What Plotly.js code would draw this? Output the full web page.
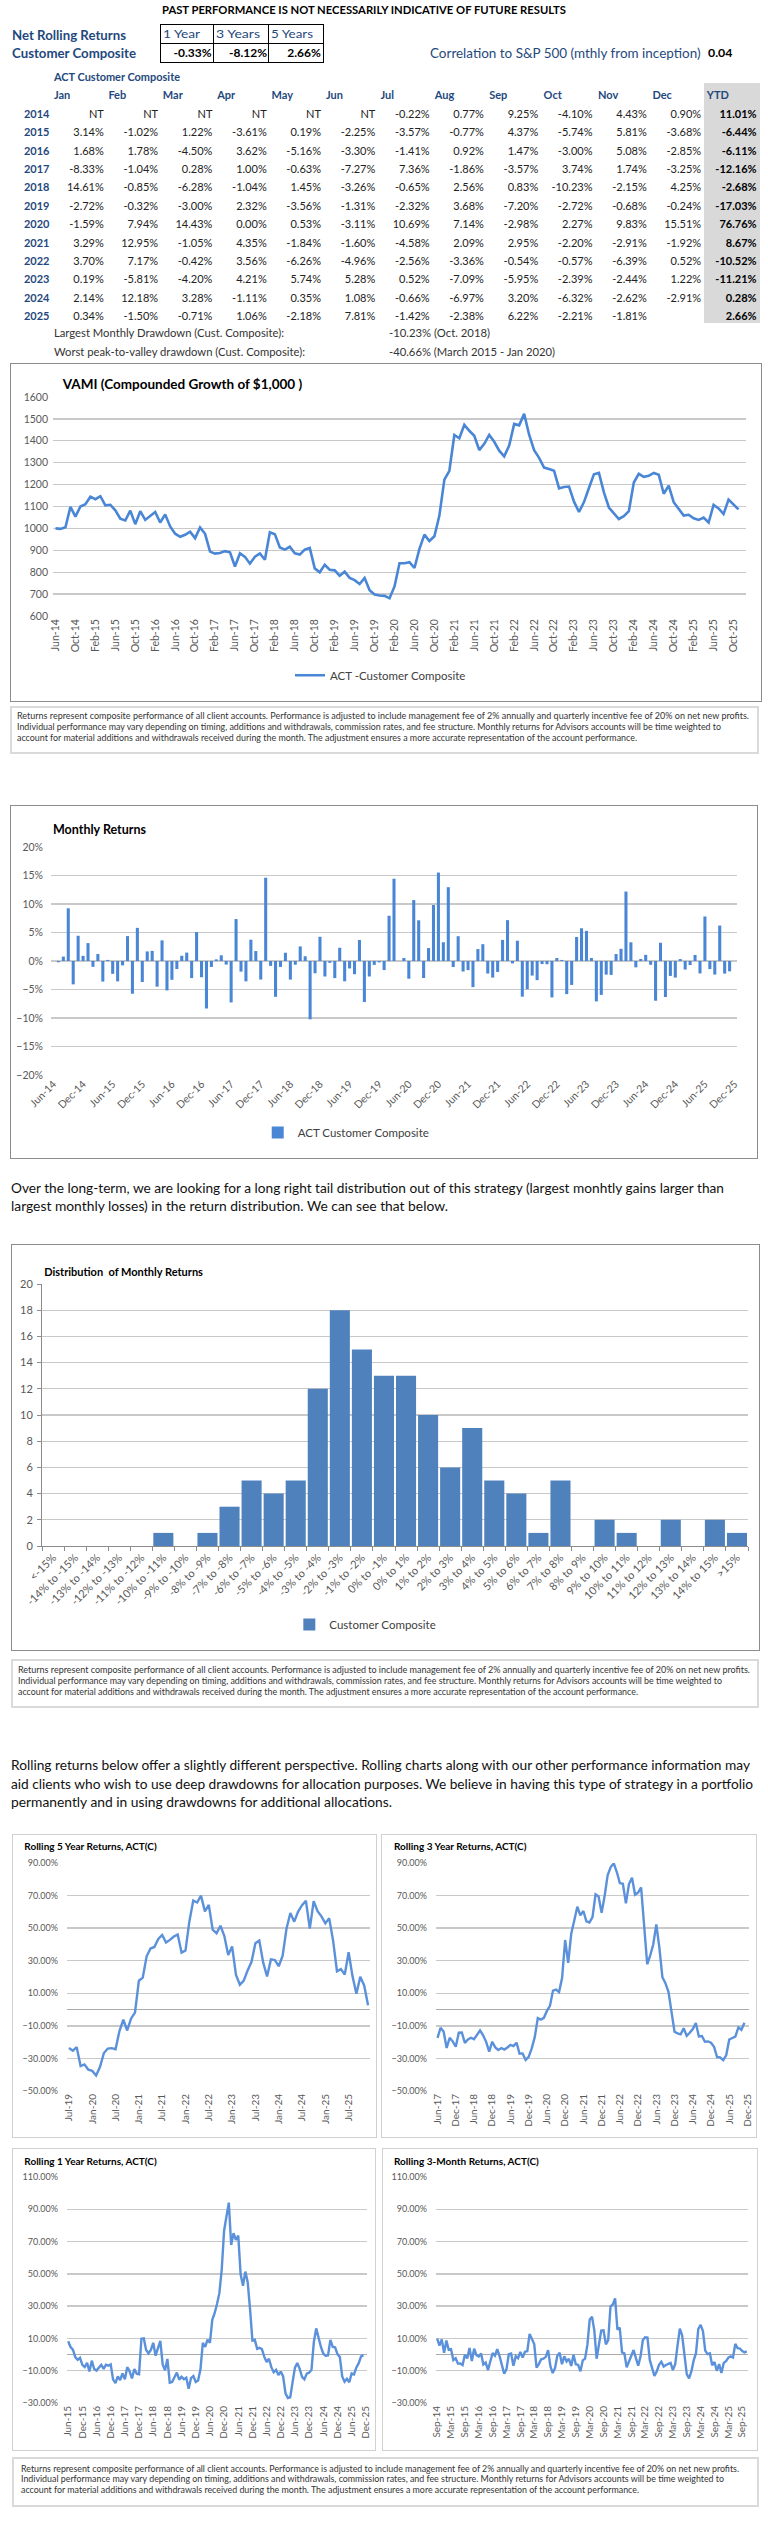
<!DOCTYPE html>
<html><head><meta charset="utf-8">
<script src="https://cdn.plot.ly/plotly-3.0.1.min.js"></script>
<style>
html,body{margin:0;padding:0;background:#fff;}
#page{position:relative;width:768px;height:2523px;overflow:hidden;font-family:Lato,'Open Sans',sans-serif;}
.t{position:absolute;white-space:nowrap;line-height:1.2;}
.box{position:absolute;box-sizing:border-box;pointer-events:none;}
.chart{position:absolute;}
</style></head><body><div id="page"></div>
<script>
// ---------------- DATA ----------------
const years = ['2014','2015','2016','2017','2018','2019','2020','2021','2022','2023','2024','2025'];
const monthNames = ['Jan','Feb','Mar','Apr','May','Jun','Jul','Aug','Sep','Oct','Nov','Dec'];
const r2014 = [null,null,null,null,null,null,-0.22,0.77,9.25,-4.10,4.43,0.90];
const r2015 = [3.14,-1.02,1.22,-3.61,0.19,-2.25,-3.57,-0.77,4.37,-5.74,5.81,-3.68];
const r2016 = [1.68,1.78,-4.50,3.62,-5.16,-3.30,-1.41,0.92,1.47,-3.00,5.08,-2.85];
const r2017 = [-8.33,-1.04,0.28,1.00,-0.63,-7.27,7.36,-1.86,-3.57,3.74,1.74,-3.25];
const r2018 = [14.61,-0.85,-6.28,-1.04,1.45,-3.26,-0.65,2.56,0.83,-10.23,-2.15,4.25];
const r2019 = [-2.72,-0.32,-3.00,2.32,-3.56,-1.31,-2.32,3.68,-7.20,-2.72,-0.68,-0.24];
const r2020 = [-1.59,7.94,14.43,0.00,0.53,-3.11,10.69,7.14,-2.98,2.27,9.83,15.51];
const r2021 = [3.29,12.95,-1.05,4.35,-1.84,-1.60,-4.58,2.09,2.95,-2.20,-2.91,-1.92];
const r2022 = [3.70,7.17,-0.42,3.56,-6.26,-4.96,-2.56,-3.36,-0.54,-0.57,-6.39,0.52];
const r2023 = [0.19,-5.81,-4.20,4.21,5.74,5.28,0.52,-7.09,-5.95,-2.39,-2.44,1.22];
const r2024 = [2.14,12.18,3.28,-1.11,0.35,1.08,-0.66,-6.97,3.20,-6.32,-2.62,-2.91];
const r2025 = [0.34,-1.50,-0.71,1.06,-2.18,7.81,-1.42,-2.38,6.22,-2.21,-1.81,null];
const ytd = [11.01,-6.44,-6.11,-12.16,-2.68,-17.03,76.76,8.67,-10.52,-11.21,0.28,2.66];

const netRollingLabels = ['1 Year','3 Years','5 Years'];
const netRollingValues = [-0.33,-8.12,2.66];
const correlationSP = 0.04;

const distCategories = ['<-15%','-14% to -15%','-13% to -14%','-12% to -13%','-11% to -12%','-10% to -11%','-9% to -10%','-8% to -9%','-7% to -8%','-6% to -7%','-5% to -6%','-4% to -5%','-3% to -4%','-2% to -3%','-1% to -2%','0% to -1%','0% to 1%','1% to 2%','2% to 3%','3% to 4%','4% to 5%','5% to 6%','6% to 7%','7% to 8%','8% to 9%','9% to 10%','10% to 11%','11% to 12%','12% to 13%','13% to 14%','14% to 15%','>15%'];
const distCounts = [0,0,0,0,0,1,0,1,3,5,4,5,12,18,15,13,13,10,6,9,5,4,1,5,0,2,1,0,2,0,2,1];

const vamiTicks = ['Jun-14','Oct-14','Feb-15','Jun-15','Oct-15','Feb-16','Jun-16','Oct-16','Feb-17','Jun-17','Oct-17','Feb-18','Jun-18','Oct-18','Feb-19','Jun-19','Oct-19','Feb-20','Jun-20','Oct-20','Feb-21','Jun-21','Oct-21','Feb-22','Jun-22','Oct-22','Feb-23','Jun-23','Oct-23','Feb-24','Jun-24','Oct-24','Feb-25','Jun-25','Oct-25'];
const monthlyTicks = ['Jun-14','Dec-14','Jun-15','Dec-15','Jun-16','Dec-16','Jun-17','Dec-17','Jun-18','Dec-18','Jun-19','Dec-19','Jun-20','Dec-20','Jun-21','Dec-21','Jun-22','Dec-22','Jun-23','Dec-23','Jun-24','Dec-24','Jun-25','Dec-25'];
const roll5Ticks = ['Jul-19','Jan-20','Jul-20','Jan-21','Jul-21','Jan-22','Jul-22','Jan-23','Jul-23','Jan-24','Jul-24','Jan-25','Jul-25'];
const roll3Ticks = ['Jun-17','Dec-17','Jun-18','Dec-18','Jun-19','Dec-19','Jun-20','Dec-20','Jun-21','Dec-21','Jun-22','Dec-22','Jun-23','Dec-23','Jun-24','Dec-24','Jun-25','Dec-25'];
const roll1Ticks = ['Jun-15','Dec-15','Jun-16','Dec-16','Jun-17','Dec-17','Jun-18','Dec-18','Jun-19','Dec-19','Jun-20','Dec-20','Jun-21','Dec-21','Jun-22','Dec-22','Jun-23','Dec-23','Jun-24','Dec-24','Jun-25','Dec-25'];
const roll3mTicks = ['Sep-14','Mar-15','Sep-15','Mar-16','Sep-16','Mar-17','Sep-17','Mar-18','Sep-18','Mar-19','Sep-19','Mar-20','Sep-20','Mar-21','Sep-21','Mar-22','Sep-22','Mar-23','Sep-23','Mar-24','Sep-24','Mar-25','Sep-25'];

const disclaimerLines = [
 'Returns represent composite performance of all client accounts. Performance is adjusted to include management fee of 2% annually and quarterly incentive fee of 20% on net new profits.',
 'Individual performance may vary depending on timing, additions and withdrawals, commission rates, and fee structure.  Monthly returns for Advisors accounts will be time weighted to',
 'account for material additions and withdrawals received during the month.  The adjustment ensures a more accurate representation of the account performance.'];
const para1Lines = ['Over the long-term, we are looking for a long right tail distribution out of this strategy (largest monhtly gains larger than',
 'largest monthly losses) in the return distribution.  We can see that below.'];
const para2Lines = ['Rolling returns below offer a slightly different perspective.  Rolling charts along with our other performance information may',
 'aid clients who wish to use deep drawdowns for allocation purposes.  We believe in having this type of strategy in a portfolio',
 'permanently and in using drawdowns for additional allocations.'];

// ---------------- derived series (compounded from the monthly table) ----------------
const yearRows = [r2014,r2015,r2016,r2017,r2018,r2019,r2020,r2021,r2022,r2023,r2024,r2025];
const monthly = [];
yearRows.forEach(r => r.forEach(v => { if (v !== null) monthly.push(v); })); // Jul-14 .. Nov-25
const vami = [1000];
monthly.forEach(v => vami.push(vami[vami.length-1] * (1 + v/100)));
function rolling(n){ const out=[]; for(let t=n;t<vami.length;t++) out.push(vami[t]/vami[t-n]-1); return out; }
const roll60 = rolling(60), roll36 = rolling(36), roll12 = rolling(12), roll3 = rolling(3);

// ---------------- page helpers ----------------
const page = document.getElementById('page');
const BLUE = '#1F497D';
const toFit = [];
function T(txt, x, y, o){
  o = o || {};
  const d = document.createElement('div');
  d.className = 't';
  d.textContent = txt;
  const fs = o.size || 11;
  d.style.fontSize = fs + 'px';
  d.style.fontWeight = o.bold ? '700' : '400';
  d.style.color = o.color || '#111';
  d.style.top = (y - 0.6*fs) + 'px';
  if (o.align === 'right') { d.style.right = (768 - x) + 'px'; d.style.transformOrigin = 'right center'; }
  else { d.style.left = x + 'px'; d.style.transformOrigin = 'left center'; }
  page.appendChild(d);
  if (o.w) toFit.push([d, o.w]);
  return d;
}
function fitAll(){ toFit.forEach(([d,w]) => { d.style.transform=''; const nw = d.getBoundingClientRect().width; if (nw > 0) d.style.transform = 'scaleX(' + (w/nw) + ')'; }); }
function B(x1,y1,x2,y2,border,bg,z){
  const d = document.createElement('div'); d.className='box';
  d.style.left=x1+'px'; d.style.top=y1+'px'; d.style.width=(x2-x1)+'px'; d.style.height=(y2-y1)+'px';
  if (border) d.style.border = border; if (bg) d.style.background = bg; if (z) d.style.zIndex = z;
  page.appendChild(d); return d;
}
function chartDiv(x1,y1,x2,y2){
  const d = document.createElement('div'); d.className='chart';
  d.style.left=x1+'px'; d.style.top=y1+'px'; d.style.width=(x2-x1)+'px'; d.style.height=(y2-y1)+'px';
  page.appendChild(d); return d;
}
const pct = v => v.toFixed(2) + '%';

// ---------------- header ----------------
B(703.7, 83.3, 760, 323.3, null, '#D9D9D9');
T('PAST PERFORMANCE IS NOT NECESSARILY INDICATIVE OF FUTURE RESULTS', 162, 10, {size:11, bold:true, w:404, color:'#000'});
T('Net Rolling Returns', 12, 35, {size:12.5, bold:true, color:BLUE, w:114});
T('Customer Composite', 12, 53.3, {size:12.5, bold:true, color:BLUE, w:124});
B(160, 24, 323.5, 62.5, '1.5px solid #000');
B(212.5, 24, 213.5, 62.5, null, '#000');
B(268, 24, 269, 62.5, null, '#000');
B(160, 42.8, 323.5, 44, null, '#000');
const nrLeft = [163, 215.5, 271], nrW = [37, 44, 42], nrRight = [211.5, 267, 320.8];
netRollingLabels.forEach((s,i) => T(s, nrLeft[i], 34.5, {size:12, color:BLUE, w:nrW[i]}));
netRollingValues.forEach((v,i) => T(pct(v), nrRight[i], 53.3, {size:12, bold:true, align:'right', color:'#000'}));
T('Correlation to S&P 500 (mthly from inception)', 429.5, 53.3, {size:12.5, color:BLUE, w:270.5});
T(correlationSP.toFixed(2), 707.6, 53.3, {size:12, bold:true, color:'#000', w:24.4});
T('ACT Customer Composite', 54, 76.7, {size:11, bold:true, color:BLUE, w:126});
monthNames.forEach((m,i) => T(m, 54 + 54.4*i, 95, {size:11, bold:true, color:BLUE}));
T('YTD', 706.8, 95, {size:11, bold:true, color:BLUE});
years.forEach((yr,k) => {
  const y = 113.3 + 18.4*k;
  T(yr, 23.5, y, {size:11, bold:true, color:BLUE, w:25.5});
  yearRows[k].forEach((v,i) => {
    const s = (v === null) ? (k === 0 ? 'NT' : '') : pct(v);
    if (s) T(s, 103.8 + 54.3*i, y, {size:11, align:'right', color:'#222'});
  });
  T(pct(ytd[k]), 756.6, y, {size:11, bold:true, align:'right', color:'#000'});
});
T('Largest Monthly Drawdown (Cust. Composite):', 54, 333.3, {size:11.5, color:'#333', w:230});
T('-10.23% (Oct. 2018)', 389, 333.3, {size:11.5, color:'#333', w:101});
T('Worst peak-to-valley drawdown (Cust. Composite):', 54, 352.3, {size:11.5, color:'#333', w:251});
T('-40.66% (March 2015 - Jan 2020)', 389, 352.3, {size:11.5, color:'#333', w:166});

// ---------------- common plotly styling ----------------
const FONT = 'Lato, Open Sans, sans-serif';
const GRID = '#C9C9C9';
const TICKC = '#595959';
const cfg = {staticPlot:true, displayModeBar:false};
function range(n, step){ const a=[]; for(let i=0;i<n;i++) a.push(i*step); return a; }
function idx(n, off){ const a=[]; for(let i=0;i<n;i++) a.push(i+(off||0)); return a; }

// ---------------- VAMI ----------------
(function(){
  const X1=10, Y1=363, X2=762, Y2=702;
  const d = chartDiv(X1,Y1,X2,Y2);
  Plotly.newPlot(d, [{
    type:'scatter', mode:'lines', x: idx(vami.length), y: vami,
    name:'ACT -Customer Composite', line:{color:'#4A86D6', width:2.6}
  }], {
    width:X2-X1, height:Y2-Y1, margin:{l:43, r:16, t:33.7, b:79.7},
    paper_bgcolor:'rgba(0,0,0,0)', plot_bgcolor:'rgba(0,0,0,0)', font:{family:FONT},
    title:{text:'<b>VAMI (Compounded Growth of $1,000 )</b>', font:{size:13.5, color:'#000', family:FONT}, xref:'container', yref:'container', x:(62.7-X1)/(X2-X1), xanchor:'left', y:1-(384.3-Y1)/(Y2-Y1), yanchor:'middle'},
    xaxis:{range:[-0.5,138.5], tickmode:'array', tickvals:range(vamiTicks.length,4), ticktext:vamiTicks, tickangle:-90, tickfont:{size:10.5, color:TICKC}, showgrid:false, zeroline:false, showline:false, ticks:''},
    yaxis:{range:[600,1600], dtick:100, gridcolor:GRID, gridwidth:1.3, zeroline:false, showline:false, tickfont:{size:10.5, color:TICKC}, ticklabelstandoff:4},
    showlegend:true, legend:{orientation:'h', x:(290-53)/693, xanchor:'left', y:(622.3-683.3)/225.6, yanchor:'middle', font:{size:11.5, color:'#404040'}},
    hovermode:false
  }, cfg);
})();
B(10, 363, 762, 702, '1.3px solid #8C8C8C');

function disclaimer(x1,y1,x2,y2,tx,lineYs,widths){
  B(x1,y1,x2,y2,'2px solid #DADADA');
  disclaimerLines.forEach((s,i) => T(s, tx, lineYs[i], {size:8.5, color:'#333', w:widths[i]}));
}
disclaimer(9.8, 705.7, 759, 754, 17, [716, 727.4, 738.5], [732, 704, 620]);

// ---------------- Monthly returns ----------------
(function(){
  const X1=10, Y1=805, X2=758, Y2=1159;
  const d = chartDiv(X1,Y1,X2,Y2);
  Plotly.newPlot(d, [{
    type:'bar', x: idx(monthly.length,1), y: monthly.map(v=>v/100),
    name:'ACT Customer Composite', marker:{color:'#4A86D6'}
  }], {
    width:X2-X1, height:Y2-Y1, margin:{l:41.4, r:21, t:41.7, b:76.3},
    paper_bgcolor:'rgba(0,0,0,0)', plot_bgcolor:'rgba(0,0,0,0)', font:{family:FONT}, bargap:0.38,
    title:{text:'<b>Monthly Returns</b>', font:{size:12.5, color:'#000', family:FONT}, xref:'container', yref:'container', x:(53-X1)/(X2-X1), xanchor:'left', y:1-(829.3-Y1)/(Y2-Y1), yanchor:'middle'},
    xaxis:{range:[-0.5,138.5], tickmode:'array', tickvals:range(monthlyTicks.length,6), ticktext:monthlyTicks, tickangle:-45, tickfont:{size:10.5, color:TICKC}, showgrid:false, zeroline:false, showline:false, ticks:''},
    yaxis:{range:[-0.2,0.2], dtick:0.05, tickformat:'.0%', gridcolor:GRID, gridwidth:1.3, zeroline:true, zerolinecolor:GRID, zerolinewidth:1.3, showline:false, tickfont:{size:10.5, color:TICKC}, ticklabelstandoff:7},
    showlegend:true, legend:{orientation:'h', x:(258-51.4)/685.6, xanchor:'left', y:(1082.7-1142.3)/236, yanchor:'middle', font:{size:11.5, color:'#404040'}},
    hovermode:false
  }, cfg);
})();
B(10, 805, 758, 1159, '1.3px solid #8C8C8C');

para1Lines.forEach((s,i) => T(s, 10.8, 1188.3 + 18.4*i, {size:12.5, color:'#111', w:[713,437][i]}));

// ---------------- Distribution ----------------
(function(){
  const X1=10.8, Y1=1244, X2=760, Y2=1650.7;
  const d = chartDiv(X1,Y1,X2,Y2);
  Plotly.newPlot(d, [{
    type:'bar', x: distCategories, y: distCounts, name:'Customer Composite',
    marker:{color:'#4F81BD'}
  }], {
    width:X2-X1, height:Y2-Y1, margin:{l:30.8, r:12.2, t:40.3, b:97.4},
    paper_bgcolor:'rgba(0,0,0,0)', plot_bgcolor:'rgba(0,0,0,0)', font:{family:FONT}, bargap:0.09,
    title:{text:'<b>Distribution  of Monthly Returns</b>', font:{size:11, color:'#000', family:FONT}, xref:'container', yref:'container', x:(44-X1)/(X2-X1), xanchor:'left', y:1-(1271.7-Y1)/(Y2-Y1), yanchor:'middle'},
    xaxis:{type:'category', tickangle:-45, tickfont:{size:11, color:TICKC}, showgrid:false, zeroline:false, showline:true, linecolor:'#8C8C8C', linewidth:1, ticks:'outside', tickson:'boundaries', ticklen:4, tickcolor:'#8C8C8C'},
    yaxis:{range:[0,20], dtick:2, gridcolor:GRID, gridwidth:1.3, zeroline:false, showline:true, linecolor:'#8C8C8C', ticks:'outside', ticklen:4, tickcolor:'#8C8C8C', tickfont:{size:11, color:TICKC}, ticklabelstandoff:2},
    showlegend:true, legend:{orientation:'h', x:(289-41.6)/706.2, xanchor:'left', y:(1553.3-1634)/269, yanchor:'middle', font:{size:11.5, color:'#404040'}},
    hovermode:false
  }, cfg);
})();
B(10.8, 1244, 760, 1650.7, '1.3px solid #8C8C8C');
disclaimer(10.8, 1659.3, 759, 1708, 18, [1670, 1681.4, 1692.5], [732, 704, 620]);

para2Lines.forEach((s,i) => T(s, 10.8, 1765.7 + 18.5*i, {size:12.5, color:'#111', w:[739,742,381][i]}));

// ---------------- Rolling charts ----------------
function rollingChart(X1,Y1,X2,Y2, m, title, titleX, titleY, yr, ticks, nCats, ys){
  const d = chartDiv(X1,Y1,X2,Y2);
  Plotly.newPlot(d, [{
    type:'scatter', mode:'lines', x: idx(ys.length), y: ys, line:{color:'#5B91DA', width:2.4}
  }], {
    width:X2-X1, height:Y2-Y1, margin:m,
    paper_bgcolor:'rgba(0,0,0,0)', plot_bgcolor:'rgba(0,0,0,0)', font:{family:FONT}, showlegend:false,
    title:{text:'<b>'+title+'</b>', font:{size:10, color:'#000', family:FONT}, xref:'container', yref:'container', x:(titleX-X1)/(X2-X1), xanchor:'left', y:1-(titleY-Y1)/(Y2-Y1), yanchor:'middle'},
    xaxis:{range:[-0.5,nCats-0.5], tickmode:'array', tickvals:range(ticks.length,6), ticktext:ticks, tickangle:-90, tickfont:{size:10, color:TICKC}, showgrid:false, zeroline:false, showline:false, ticks:''},
    yaxis:{range:yr, tick0:yr[0], dtick:0.2, tickformat:'.2%', gridcolor:GRID, gridwidth:1.3, zeroline:true, zerolinecolor:'#ABABAB', zerolinewidth:1.8, showline:false, tickfont:{size:9, color:TICKC}, ticklabelstandoff:8},
    hovermode:false
  }, cfg);
  B(X1,Y1,X2,Y2,'1.5px solid #D0D0D0');
}
rollingChart(12.2,1834,377,2138.3, {l:54.8, r:7.3, t:28.7, b:47}, 'Rolling 5 Year Returns, ACT(C)', 24.5, 1846.7, [-0.5,0.9], roll5Ticks, 78, roll60);
rollingChart(381,1834,756.6,2138.3, {l:54.8, r:8.3, t:28.7, b:47}, 'Rolling 3 Year Returns, ACT(C)', 394, 1846.7, [-0.5,0.9], roll3Ticks, 103, roll36);
rollingChart(12.2,2147.7,375.6,2450.7, {l:54.8, r:8.3, t:29, b:48.4}, 'Rolling 1 Year Returns, ACT(C)', 24.5, 2160.7, [-0.3,1.1], roll1Ticks, 127, roll12);
rollingChart(382,2147.7,758,2450.7, {l:53.8, r:9.7, t:29, b:48.4}, 'Rolling 3-Month Returns, ACT(C)', 394, 2160.7, [-0.3,1.1], roll3mTicks, 135, roll3);

disclaimer(12.2, 2457.3, 759, 2506.7, 20.6, [2469, 2479.5, 2490], [718, 703, 618]);

fitAll();
if (document.fonts && document.fonts.ready) document.fonts.ready.then(fitAll);
</script></body></html>
